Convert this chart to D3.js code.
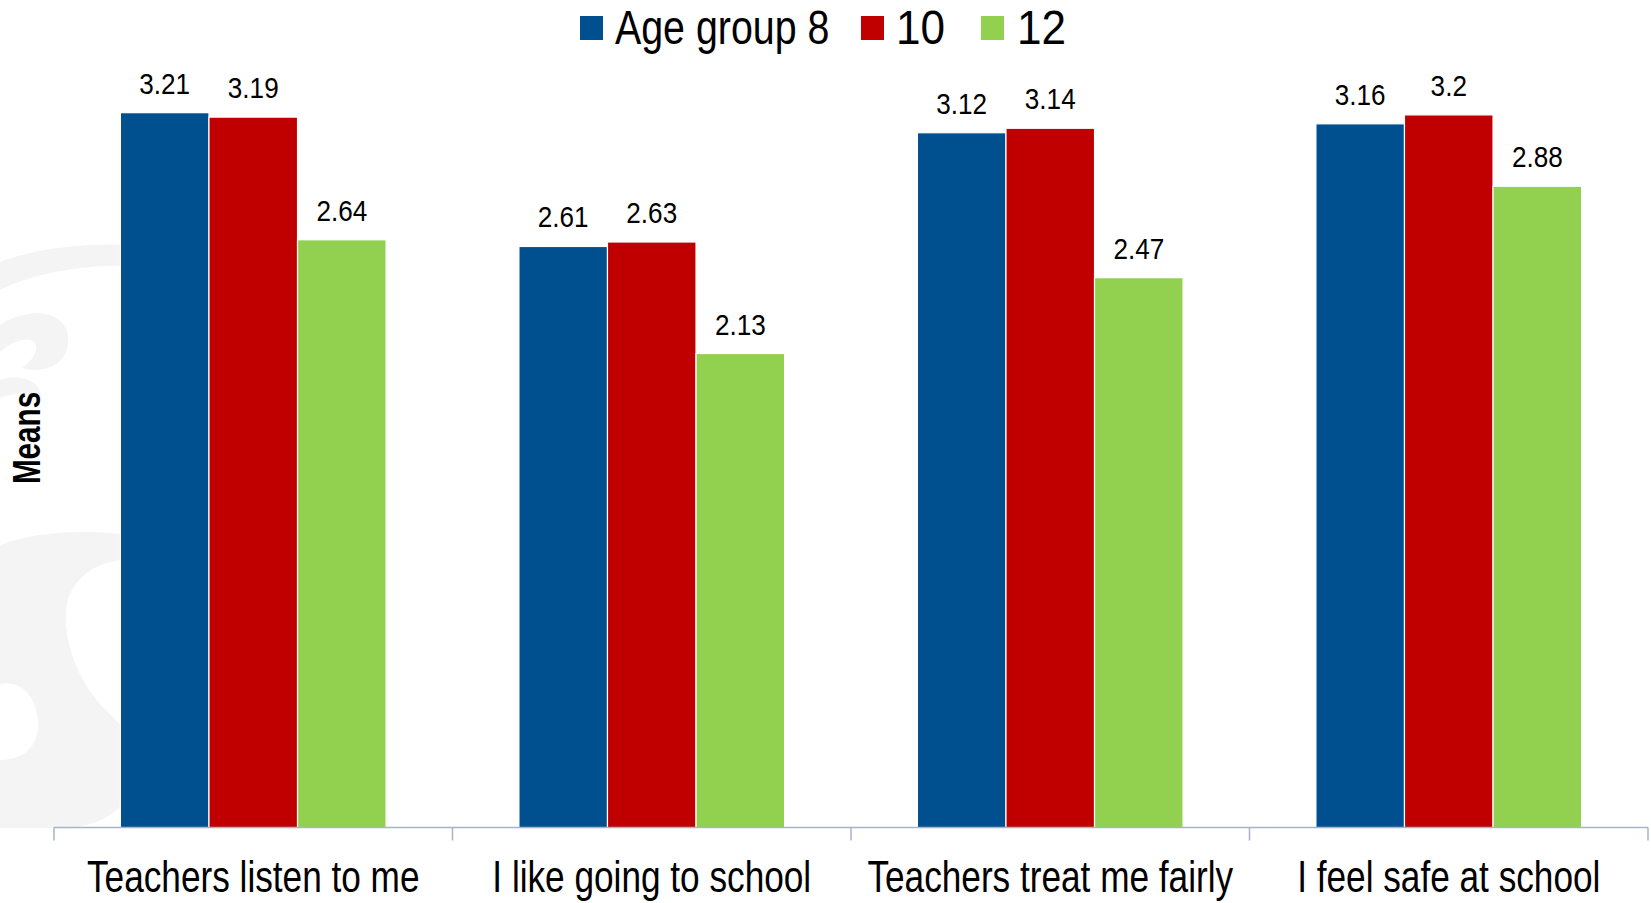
<!DOCTYPE html>
<html>
<head>
<meta charset="utf-8">
<script src="https://cdn.jsdelivr.net/npm/d3@7"></script>
<style>
  html, body { margin: 0; padding: 0; background: #ffffff; }
  svg { display: block; }
  text { font-family: "Liberation Sans", Arial, sans-serif; fill: #000; }
</style>
</head>
<body>
<svg id="chart" width="1651" height="903"></svg>
<script>
const categories = ["Teachers listen to me", "I like going to school", "Teachers treat me fairly", "I feel safe at school"];
const seriesNames = ["Age group 8", "10", "12"];
const age8  = [3.21, 2.61, 3.12, 3.16];
const age10 = [3.19, 2.63, 3.14, 3.2];
const age12 = [2.64, 2.13, 2.47, 2.88];
const seriesValues = [age8, age10, age12];
const colors = ["#00508F", "#C00000", "#92D050"];
const axisTitle = "Means";

const svg = d3.select("#chart");
const left = 54, right = 1648, baseY = 828.5;

// faint decorative watermark on the left (background)
const wm = svg.append("g").attr("fill", "#f4f4f4");
wm.append("path").attr("d", "M0,262 C40,246 110,240 150,248 L150,268 C110,262 45,268 0,290 Z");
wm.append("path").attr("d", "M0,325 C30,305 72,310 68,345 C65,366 42,374 22,368 C40,356 42,336 22,340 C10,343 5,348 0,352 Z");
wm.append("path").attr("d", "M0,380 C25,372 45,385 40,400 C30,392 15,392 0,398 Z");
wm.append("path").attr("d", "M0,545 C45,528 105,530 150,538 L150,560 C110,556 82,566 68,598 C58,640 82,690 112,716 C132,735 142,762 130,792 C120,815 92,828 62,828 L0,828 L0,760 C25,760 40,745 38,720 C35,690 15,680 0,684 Z");
wm.append("path").attr("d", "M0,600 C20,595 35,610 30,640 C26,665 12,672 0,668 Z");

const x0 = d3.scaleBand().domain(categories).range([left, right]).padding(0);
const x1 = d3.scaleBand().domain(seriesNames).range([0, x0.bandwidth()]).paddingInner(0).paddingOuter(0.75);
const y = d3.scaleLinear().domain([0, 3.5]).range([baseY, baseY - 3.5 * 223]);

const fmt = v => String(v);

// bars
const groups = svg.append("g").selectAll("g")
  .data(categories)
  .join("g")
  .attr("transform", d => `translate(${x0(d)},0)`);

const rows = (c, i) => seriesNames.map((s, j) => ({ s, v: seriesValues[j][i], j }));

groups.selectAll("rect")
  .data(rows)
  .join("rect")
  .attr("x", d => x1(d.s))
  .attr("y", d => y(d.v))
  .attr("width", x1.bandwidth())
  .attr("height", d => y(0) - y(d.v))
  .attr("fill", d => colors[d.j])
  .attr("stroke", "#ffffff")
  .attr("stroke-width", 1.2);

groups.selectAll("text.val")
  .data(rows)
  .join("text")
  .attr("class", "val")
  .attr("transform", d => `translate(${x1(d.s) + x1.bandwidth() / 2},${y(d.v) - 19}) scale(0.87,1)`)
  .attr("text-anchor", "middle")
  .style("font-size", "30px")
  .text(d => fmt(d.v));

// x axis
const tickPositions = categories.map(c => x0(c)).concat([right]);
const axisG = svg.append("g");
axisG.append("line")
  .attr("x1", left).attr("x2", right)
  .attr("y1", baseY - 1).attr("y2", baseY - 1)
  .attr("stroke", "#A6B3CB").attr("stroke-width", 1.5);
axisG.selectAll("line.tick")
  .data(tickPositions)
  .join("line")
  .attr("class", "tick")
  .attr("x1", d => d).attr("x2", d => d)
  .attr("y1", baseY - 1).attr("y2", baseY + 12)
  .attr("stroke", "#A6B3CB").attr("stroke-width", 1.5);
axisG.selectAll("text.cat")
  .data(categories)
  .join("text")
  .attr("class", "cat")
  .attr("transform", d => `translate(${x0(d) + x0.bandwidth() / 2},892) scale(0.8,1)`)
  .attr("text-anchor", "middle")
  .style("font-size", "44px")
  .text(d => d);

// y axis title
svg.append("text")
  .attr("transform", "translate(40,438) rotate(-90) scale(0.78,1)")
  .attr("text-anchor", "middle")
  .style("font-size", "38px")
  .style("font-weight", "bold")
  .text(axisTitle);

// legend
const legendItems = [
  { name: seriesNames[0], sq: 580, tx: 615, sx: 0.82 },
  { name: seriesNames[1], sq: 861, tx: 896, sx: 0.92 },
  { name: seriesNames[2], sq: 981, tx: 1017, sx: 0.92 }
];
const lg = svg.append("g");
lg.selectAll("rect")
  .data(legendItems)
  .join("rect")
  .attr("x", d => d.sq).attr("y", 16)
  .attr("width", 23).attr("height", 24)
  .attr("fill", (d, i) => colors[i]);
lg.selectAll("text")
  .data(legendItems)
  .join("text")
  .attr("transform", d => `translate(${d.tx},44) scale(${d.sx},1)`)
  .style("font-size", "48px")
  .text(d => d.name);
</script>
</body>
</html>
